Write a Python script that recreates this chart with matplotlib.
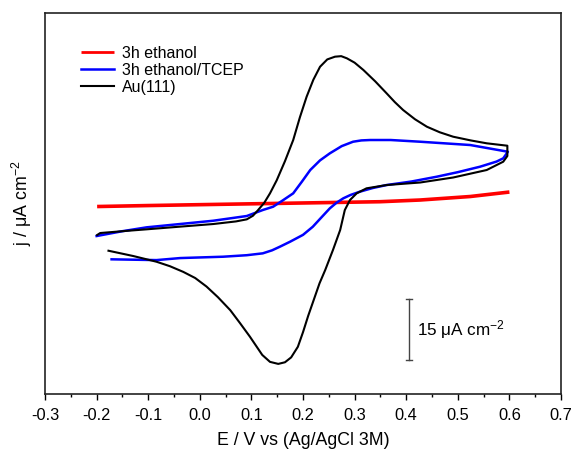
import matplotlib
matplotlib.use("Agg")
import matplotlib.pyplot as plt
import numpy as np

plt.rcParams["font.family"] = ["Liberation Sans", "DejaVu Sans"]
plt.rcParams["mathtext.fontset"] = "custom"
plt.rcParams["mathtext.rm"] = "Liberation Sans"
plt.rcParams["mathtext.it"] = "Liberation Sans:italic"
plt.rcParams["mathtext.default"] = "regular"

# ---------------------------------------------------------------------------
# Data (E in V vs Ag/AgCl, j in uA cm^-2, arbitrary zero)
# ---------------------------------------------------------------------------
red_E = [-0.199, -0.10, 0.039, 0.194, 0.349, 0.427, 0.524, 0.60]
red_j = [0.86, 1.10, 1.40, 1.72, 2.04, 2.46, 3.32, 4.42]

blue_E = [-0.200, -0.150, -0.103, 0.026, 0.091, 0.122, 0.142, 0.160, 0.181,
          0.198, 0.214, 0.233, 0.252, 0.275, 0.297, 0.313, 0.330, 0.370,
          0.427, 0.524, 0.597,
          0.588, 0.575, 0.543, 0.500, 0.459, 0.410, 0.362, 0.335, 0.310,
          0.292, 0.278, 0.265, 0.252, 0.235, 0.219, 0.200, 0.175, 0.155,
          0.140, 0.122, 0.091, 0.045, -0.038, -0.084, -0.171]
blue_j = [-6.39, -5.20, -4.25, -2.63, -1.47, 0.0, 0.81, 2.30, 4.10,
          7.00, 9.83, 12.20, 13.93, 15.70, 16.78, 17.10, 17.20, 17.20,
          16.78, 15.97, 14.32,
          12.70, 11.90, 10.64, 9.30, 8.18, 7.00, 6.14, 5.40, 4.50,
          3.70, 2.87, 1.80, 0.42, -1.90, -4.10, -6.10, -7.78, -9.02,
          -9.90, -10.64, -11.10, -11.47, -11.80, -12.30, -12.11]

black_E = [-0.199, -0.193, -0.150, -0.103, -0.040, 0.026, 0.070, 0.091,
           0.103, 0.113, 0.125, 0.136, 0.149, 0.165, 0.181, 0.194, 0.207,
           0.220, 0.233, 0.247, 0.262, 0.274, 0.285, 0.300, 0.317, 0.340,
           0.362, 0.378, 0.394, 0.417, 0.440, 0.465, 0.491, 0.525, 0.556,
           0.596,
           0.596, 0.588, 0.556, 0.491, 0.427, 0.362, 0.323, 0.304, 0.291,
           0.281, 0.272, 0.258, 0.243, 0.232, 0.221, 0.210, 0.200, 0.190,
           0.177, 0.165, 0.152, 0.136, 0.121, 0.097, 0.078, 0.059, 0.035,
           0.013, -0.009, -0.032, -0.058, -0.084, -0.129, -0.177]
black_j = [-6.14, -5.65, -5.20, -4.74, -4.10, -3.44, -2.80, -2.29,
           -1.40, 0.0, 1.80, 4.10, 7.30, 12.00, 17.20, 22.80, 27.84,
           32.00, 35.20, 37.00, 37.67, 37.80, 37.27, 36.20, 34.40, 31.60,
           28.67, 26.50, 24.57, 22.30, 20.47, 19.10, 18.01, 17.10, 16.39,
           15.80,
           13.27, 11.87, 9.83, 7.99, 6.76, 6.14, 5.33, 4.10, 2.46,
           0.0, -4.91, -9.83, -14.74, -18.00, -22.00, -26.00, -30.00, -33.60,
           -36.20, -37.40, -37.80, -37.30, -35.60, -31.10, -27.80, -24.60,
           -21.40, -18.80, -16.70, -15.20, -13.80, -12.70, -11.30, -10.00]

labels = ["3h ethanol", "3h ethanol/TCEP", "Au(111)"]

# scale bar
bar_E = 0.405
bar_low = -36.9
bar_len = 15

# ---------------------------------------------------------------------------
fig = plt.figure(figsize=(5.72, 4.5), dpi=100)
ax = fig.add_axes([0.0787, 0.1253, 0.9021, 0.8458])

ax.plot(red_E, red_j, color="#ff0000", lw=2.6, label=labels[0],
        solid_joinstyle="round", solid_capstyle="butt")
ax.plot(blue_E, blue_j, color="#0000ff", lw=1.8, label=labels[1],
        solid_joinstyle="round")
ax.plot(black_E, black_j, color="black", lw=1.5, label=labels[2],
        solid_joinstyle="round")

# scale bar
ax.plot([bar_E, bar_E], [bar_low, bar_low + bar_len], color="#444444", lw=1)
for yy in (bar_low, bar_low + bar_len):
    ax.plot([bar_E - 0.006, bar_E + 0.006], [yy, yy], color="#444444", lw=1)
ax.text(bar_E + 0.016, bar_low + bar_len / 2, "15 \u03bcA cm$^{-2}$",
        fontsize=12.3, va="center", ha="left")

ax.set_xlim(-0.3, 0.7)
ax.set_ylim(-45.1, 48.4)
ax.set_xticks(np.arange(-0.3, 0.71, 0.1))
ax.set_xticks(np.arange(-0.25, 0.7, 0.1), minor=True)
ax.set_xticklabels([f"{v:.1f}" for v in np.arange(-0.3, 0.71, 0.1)])
ax.set_yticks([])
ax.tick_params(axis="x", which="major", direction="out", length=4.5,
               width=1, labelsize=11.8, pad=5.5)
ax.tick_params(axis="x", which="minor", direction="out", length=2.5, width=1)
for s in ax.spines.values():
    s.set_linewidth(1.2)
    s.set_color("#222222")

ax.set_xlabel("E / V vs (Ag/AgCl 3M)", fontsize=12.8, labelpad=7)
ax.set_ylabel("j / \u03bcA cm$^{-2}$", fontsize=12.8, labelpad=8)

leg = ax.legend(loc="upper left", bbox_to_anchor=(0.057, 0.93), frameon=False,
                fontsize=11.5, handlelength=2.06, handletextpad=0.5,
                labelspacing=0.11, borderaxespad=0)
leg.get_lines()[0].set_linewidth(2.0)

fig.savefig("out.png", dpi=100)
